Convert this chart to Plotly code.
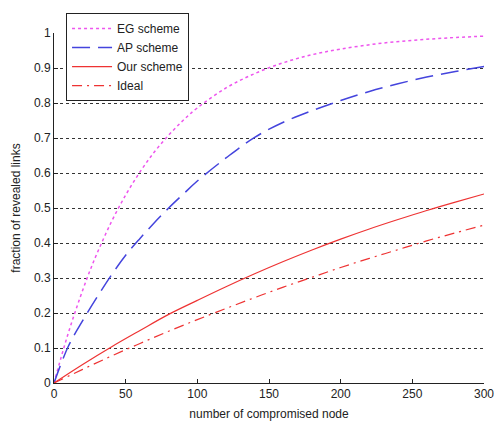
import plotly.graph_objects as go

x_eg = [0, 5, 10, 15, 20, 25, 30, 40, 50, 60, 70, 80, 90, 100, 120, 140, 160, 180, 200, 225, 250, 275, 300]
y_eg = [0, 0.074, 0.143, 0.206, 0.265, 0.320, 0.370, 0.460, 0.537, 0.603, 0.660, 0.708, 0.750,
        0.786, 0.843, 0.884, 0.915, 0.938, 0.954, 0.969, 0.979, 0.986, 0.991]

x_ap = [0, 10, 20, 30, 40, 50, 60, 70, 80, 90, 100, 120, 140, 160, 180, 200, 220, 240, 260, 280, 300]
y_ap = [0, 0.105, 0.178, 0.245, 0.308, 0.365, 0.413, 0.458, 0.500, 0.539, 0.577, 0.643, 0.702,
        0.745, 0.778, 0.807, 0.833, 0.855, 0.874, 0.890, 0.904]

x_our = [0, 20, 40, 60, 80, 100, 120, 140, 160, 180, 200, 220, 240, 260, 280, 300]
y_our = [0, 0.053, 0.103, 0.150, 0.196, 0.236, 0.275, 0.312, 0.347, 0.380, 0.411, 0.440,
         0.467, 0.493, 0.517, 0.540]

x_ideal = [0, 20, 40, 60, 80, 100, 120, 140, 160, 180, 200, 220, 240, 260, 280, 300]
y_ideal = [0, 0.039, 0.077, 0.113, 0.148, 0.181, 0.213, 0.244, 0.274, 0.302, 0.330, 0.356,
           0.381, 0.406, 0.429, 0.451]

x_ticks = [0, 50, 100, 150, 200, 250, 300]
y_ticks = [0, 0.1, 0.2, 0.3, 0.4, 0.5, 0.6, 0.7, 0.8, 0.9, 1]
y_tick_labels = ["0", "0.1", "0.2", "0.3", "0.4", "0.5", "0.6", "0.7", "0.8", "0.9", "1"]

fig = go.Figure()
fig.add_trace(go.Scatter(x=x_eg, y=y_eg, mode="lines", name="EG scheme",
                         line=dict(color="#ee55ee", dash="dot", width=1.5, shape="spline")))
fig.add_trace(go.Scatter(x=x_ap, y=y_ap, mode="lines", name="AP scheme",
                         line=dict(color="#4444dd", dash="18px,8px", width=1.5, shape="spline")))
fig.add_trace(go.Scatter(x=x_our, y=y_our, mode="lines", name="Our scheme",
                         line=dict(color="#ee3333", width=1.2, shape="spline")))
fig.add_trace(go.Scatter(x=x_ideal, y=y_ideal, mode="lines", name="Ideal",
                         line=dict(color="#ee3333", dash="10px,5px,2px,5px", width=1.2, shape="spline")))

font = "Liberation Sans, Arial, sans-serif"
fig.update_layout(
    width=494, height=421,
    margin=dict(l=54, r=10, t=33, b=38, autoexpand=False),
    paper_bgcolor="white", plot_bgcolor="white",
    font=dict(family=font, size=12, color="#222"),
    showlegend=True,
    legend=dict(x=0.028, y=1.057, xanchor="left", yanchor="top",
                bgcolor="white", bordercolor="#222", borderwidth=1,
                font=dict(size=12, color="#222"), tracegroupgap=0,
                itemwidth=40),
    xaxis=dict(range=[0, 300], tickvals=x_ticks, ticks="inside", ticklen=4,
               tickcolor="#222", showline=True, linecolor="#222", linewidth=1,
               showgrid=False, zeroline=False, mirror=False,
               ticklabeloverflow="allow", automargin=False,
               title=dict(text="number of compromised node", font=dict(size=12), standoff=12),
               tickfont=dict(size=12)),
    yaxis=dict(range=[0, 1], tickvals=y_ticks, ticktext=y_tick_labels,
               ticks="inside", ticklen=4, tickcolor="#222",
               showline=True, linecolor="#222", linewidth=1,
               showgrid=True, gridcolor="#333", griddash="dot", gridwidth=1,
               zeroline=False, ticklabeloverflow="allow", automargin=False,
               title=dict(text="fraction of revealed links", font=dict(size=12), standoff=10),
               tickfont=dict(size=12)),
)

fig.write_html("out.html")
